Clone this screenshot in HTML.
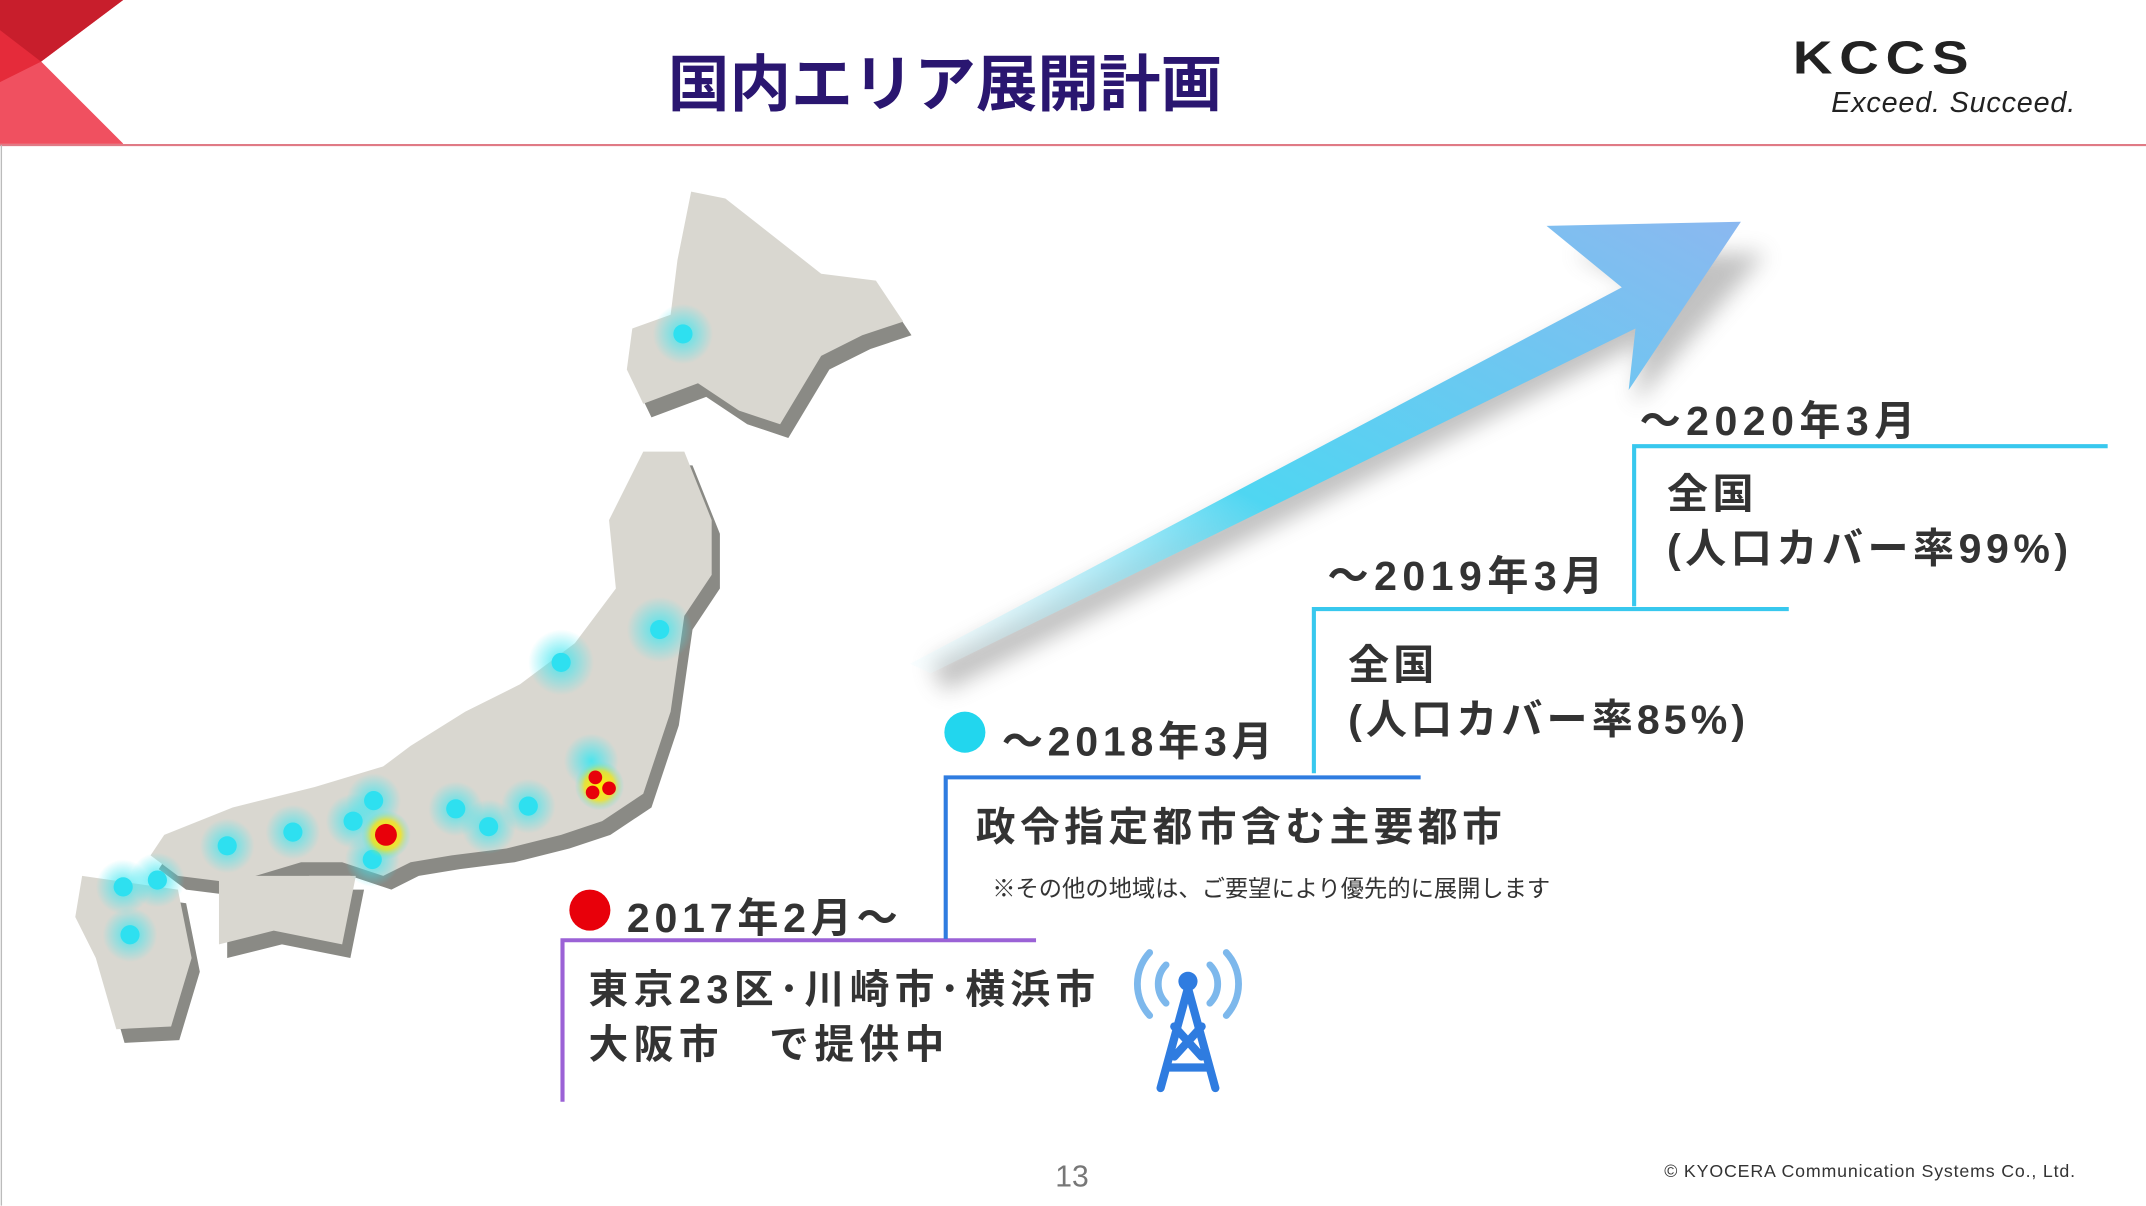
<!DOCTYPE html>
<html><head><meta charset="utf-8">
<style>
html,body{margin:0;padding:0;background:#fff;overflow:hidden;}
#wrap{width:1568px;height:881px;position:relative;transform:scale(1.36862);transform-origin:0 0;font-family:"Liberation Sans","Noto Sans CJK JP",sans-serif;}
.t{position:absolute;white-space:nowrap;font-weight:bold;color:#333;}
</style></head><body>
<div id="wrap">
<svg width="1568" height="881" style="position:absolute;left:0;top:0">
<defs>
<linearGradient id="ag" x1="0" y1="1" x2="1" y2="0">
<stop offset="0" stop-color="#e8fbff" stop-opacity="0.2"/>
<stop offset="0.4" stop-color="#4fd6f2"/>
<stop offset="1" stop-color="#8bb8f0"/>
</linearGradient>
<radialGradient id="glow"><stop offset="0" stop-color="#3ee6f0" stop-opacity="0.9"/><stop offset="1" stop-color="#3ee6f0" stop-opacity="0"/></radialGradient>
<radialGradient id="yglow"><stop offset="0" stop-color="#fff200"/><stop offset="0.6" stop-color="#f4e400" stop-opacity="0.7"/><stop offset="1" stop-color="#3ee6f0" stop-opacity="0"/></radialGradient>
<filter id="blur"><feGaussianBlur stdDeviation="8"/></filter>
</defs>
<g>
<polygon points="0,0 90,0 30,45 90,105 0,105" fill="#e52b3a"/>
<polygon points="0,0 90,0 30,45 0,22" fill="#c81e2c"/>
<polygon points="0,60 30,45 90,105 0,105" fill="#f05060"/>
</g>
<line x1="0" y1="106" x2="1568" y2="106" stroke="#e07a85" stroke-width="1.5"/>
<line x1="1" y1="106" x2="1" y2="881" stroke="#bbb" stroke-width="1"/>
<g>
<g transform="translate(6,10)" fill="#8a8a85">
<polygon points="505,140 530,145 600,200 640,205 660,235 630,245 600,260 570,310 540,300 510,280 470,295 458,270 462,240 490,230 495,190"/>
<polygon points="470,330 500,330 520,380 520,420 500,450 490,520 470,580 440,600 410,610 370,620 330,625 300,630 280,640 250,630 220,630 170,645 130,640 110,625 120,610 170,590 230,575 280,560 300,545 340,520 380,500 420,470 450,430 445,380"/>
<polygon points="60,640 130,650 140,700 125,750 85,752 70,700 55,670"/>
<polygon points="160,640 260,640 250,690 200,680 160,690"/>
</g>
<g fill="#d9d7d0">
<polygon points="505,140 530,145 600,200 640,205 660,235 630,245 600,260 570,310 540,300 510,280 470,295 458,270 462,240 490,230 495,190"/>
<polygon points="470,330 500,330 520,380 520,420 500,450 490,520 470,580 440,600 410,610 370,620 330,625 300,630 280,640 250,630 220,630 170,645 130,640 110,625 120,610 170,590 230,575 280,560 300,545 340,520 380,500 420,470 450,430 445,380"/>
<polygon points="60,640 130,650 140,700 125,750 85,752 70,700 55,670"/>
<polygon points="160,640 260,640 250,690 200,680 160,690"/>
</g>
<g>
<circle cx="499" cy="244" r="22" fill="url(#glow)"/><circle cx="410" cy="484" r="24" fill="url(#glow)"/><circle cx="482" cy="460" r="24" fill="url(#glow)"/>
<circle cx="273" cy="585" r="20" fill="url(#glow)"/><circle cx="258" cy="600" r="20" fill="url(#glow)"/><circle cx="272" cy="628" r="20" fill="url(#glow)"/>
<circle cx="214" cy="608" r="20" fill="url(#glow)"/><circle cx="166" cy="618" r="20" fill="url(#glow)"/><circle cx="115" cy="643" r="20" fill="url(#glow)"/>
<circle cx="90" cy="648" r="20" fill="url(#glow)"/><circle cx="95" cy="683" r="20" fill="url(#glow)"/><circle cx="333" cy="591" r="20" fill="url(#glow)"/>
<circle cx="357" cy="604" r="20" fill="url(#glow)"/><circle cx="386" cy="589" r="20" fill="url(#glow)"/><circle cx="432" cy="556" r="20" fill="url(#glow)"/>
</g>
<g fill="#2ee0f0">
<circle cx="499" cy="244" r="7"/><circle cx="410" cy="484" r="7"/><circle cx="482" cy="460" r="7"/>
<circle cx="273" cy="585" r="7"/><circle cx="258" cy="600" r="7"/><circle cx="272" cy="628" r="7"/>
<circle cx="214" cy="608" r="7"/><circle cx="166" cy="618" r="7"/><circle cx="115" cy="643" r="7"/>
<circle cx="90" cy="648" r="7"/><circle cx="95" cy="683" r="7"/><circle cx="333" cy="591" r="7"/>
<circle cx="357" cy="604" r="7"/><circle cx="386" cy="589" r="7"/>
</g>
<circle cx="282" cy="610" r="18" fill="url(#yglow)"/><circle cx="282" cy="610" r="8" fill="#e8000a"/>
<circle cx="438" cy="574" r="18" fill="url(#yglow)"/>
<g fill="#e8000a"><circle cx="435" cy="568" r="5"/><circle cx="445" cy="576" r="5"/><circle cx="433" cy="579" r="5"/></g>
</g>
<g>
<polygon points="690,505 1200,250 1195,295 1290,185 1150,185 1205,210 680,485" fill="#777" opacity="0.45" filter="url(#blur)"/>
<polygon points="665,485 1185,210 1130,165 1272,162 1190,285 1195,240 680,492" fill="url(#ag)"/>
</g>
<g fill="none" stroke-width="3">
<polyline points="411,805 411,687 757,687" stroke="#9b62d6"/>
<polyline points="691,686 691,568 1038,568" stroke="#2f7ce0"/>
<polyline points="960,565 960,445 1307,445" stroke="#38c8ee"/>
<polyline points="1194,443 1194,326 1540,326" stroke="#38c8ee"/>
</g>
<circle cx="431" cy="665" r="15" fill="#e8000a"/>
<circle cx="705" cy="535" r="15" fill="#22d6ee"/>
<g stroke="#2f7ce0" fill="none" stroke-linecap="round">
<g stroke="#7db8ec" stroke-width="5">
<path d="M852,705 a20,20 0 0,0 0,28"/><path d="M884,705 a20,20 0 0,1 0,28"/>
<path d="M840,696 a34,34 0 0,0 0,46"/><path d="M896,696 a34,34 0 0,1 0,46"/>
</g>
<circle cx="868" cy="717" r="7" fill="#2f7ce0" stroke="none"/>
<path d="M868,722 L848,795 M868,722 L888,795 M858,750 L878,772 M878,750 L858,772 M853,780 L883,780" stroke-width="6"/>
</g>
</svg>
<div class="t" style="left:488px;top:25px;font-size:45px;color:#2a1670;">国内エリア展開計画</div>
<div class="t" style="left:1310px;top:24px;font-size:40px;color:#222;letter-spacing:5px;font-weight:900;transform:scaleY(0.85);transform-origin:0 0;">KCCS</div>
<div class="t" style="left:1338px;top:64px;font-size:21px;color:#222;font-style:italic;font-weight:normal;letter-spacing:0.6px;">Exceed. Succeed.</div>
<div class="t" style="left:458px;top:646px;font-size:30px;letter-spacing:3.5px;">2017年2月～</div>
<div class="t" style="left:430px;top:704px;font-size:29px;line-height:40px;letter-spacing:4px;">東京23区･川崎市･横浜市<br>大阪市　で提供中</div>
<div class="t" style="left:732px;top:517px;font-size:30px;letter-spacing:3.5px;">～2018年3月</div>
<div class="t" style="left:713px;top:581px;font-size:29px;letter-spacing:3.3px;">政令指定都市含む主要都市</div>
<div class="t" style="left:725px;top:635px;font-size:17px;font-weight:normal;">※その他の地域は、ご要望により優先的に展開します</div>
<div class="t" style="left:970px;top:396px;font-size:30px;letter-spacing:4px;">～2019年3月</div>
<div class="t" style="left:985px;top:467px;font-size:30px;line-height:40px;letter-spacing:3px;">全国<br>(人口カバー率85%)</div>
<div class="t" style="left:1198px;top:283px;font-size:30px;letter-spacing:4px;">～2020年3月</div>
<div class="t" style="left:1218px;top:342px;font-size:30px;line-height:40px;letter-spacing:3.3px;">全国<br>(人口カバー率99%)</div>
<div class="t" style="left:771px;top:847px;font-size:22px;color:#777;font-weight:normal;">13</div>
<div class="t" style="left:1216px;top:848px;font-size:13px;color:#333;font-weight:normal;letter-spacing:0.6px;">© KYOCERA Communication Systems Co., Ltd.</div>
</div>
</body></html>
